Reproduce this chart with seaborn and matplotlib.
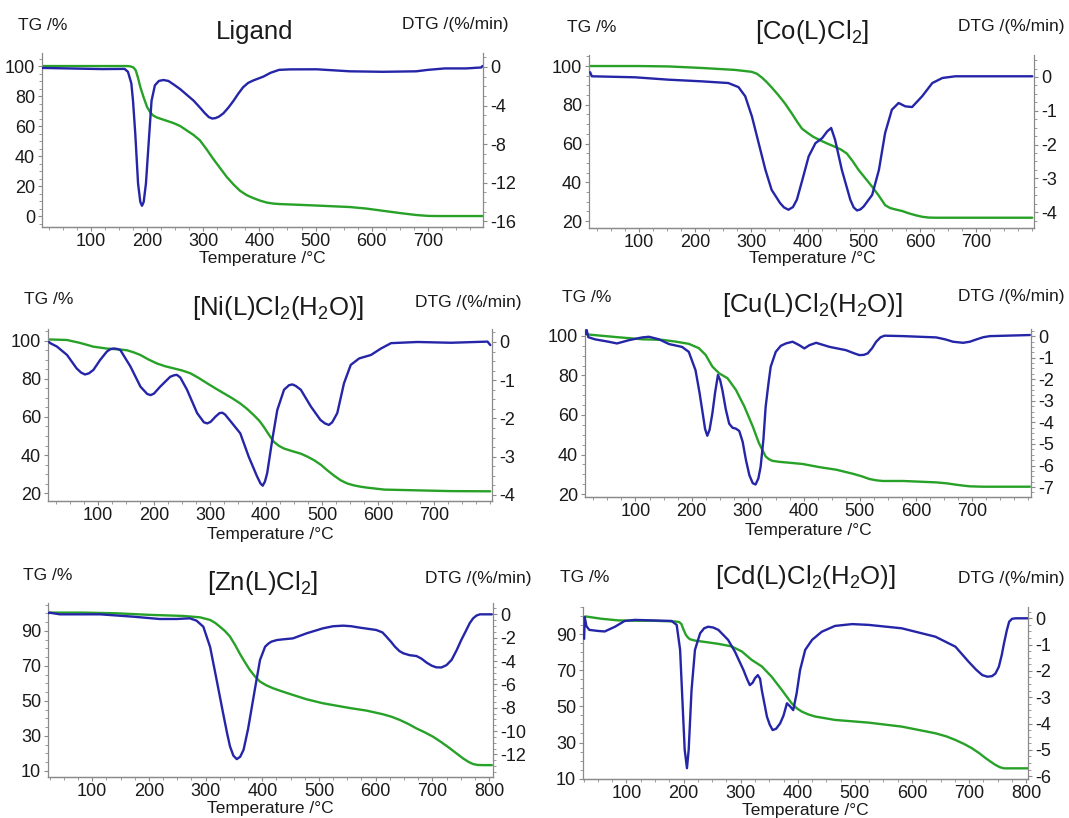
import matplotlib
matplotlib.use("Agg")
import matplotlib.pyplot as plt
import seaborn as sns
from matplotlib.ticker import AutoMinorLocator, FixedLocator

# ---------------- data ----------------
TITLES = ["Ligand", r"[Co(L)Cl$_\mathregular{2}$]",
          r"[Ni(L)Cl$_\mathregular{2}$(H$_\mathregular{2}$O)]",
          r"[Cu(L)Cl$_\mathregular{2}$(H$_\mathregular{2}$O)]",
          r"[Zn(L)Cl$_\mathregular{2}$]",
          r"[Cd(L)Cl$_\mathregular{2}$(H$_\mathregular{2}$O)]"]

# Ligand
LIG_T_TG = [14, 60, 120, 165, 170, 176, 180, 184, 188, 194, 200, 206, 211, 217, 223, 235, 247, 259, 271, 283, 294, 306, 318, 330, 342, 354, 365, 377, 389, 401, 413, 425, 436, 470, 502, 561, 590, 620, 650, 679, 700, 720, 797]
LIG_TG = [100, 100, 100, 100, 99.8, 99, 97, 92, 86, 79, 72.7, 69, 67, 65.8, 65, 63.5, 62, 60, 57, 54, 50.5, 44.5, 38, 32, 26, 21, 17, 14, 12, 10.3, 9, 8.3, 8, 7.5, 7, 6, 5, 3.5, 2, 0.7, 0.1, 0, 0]
LIG_T_DTG = [14, 60, 120, 160, 166, 172, 175, 179, 184, 188, 191, 194, 198, 204, 208, 214, 221, 229, 238, 247, 259, 271, 283, 294, 303, 310, 316, 322, 328, 336, 345, 354, 362, 371, 380, 389, 398, 407, 420, 435, 454, 502, 561, 620, 679, 700, 730, 768, 795, 797]
LIG_DTG = [-0.1, -0.15, -0.22, -0.2, -0.5, -1.7, -3.5, -6.9, -12.1, -14.0, -14.4, -14.0, -12.1, -6.9, -3.5, -1.9, -1.45, -1.35, -1.45, -1.8, -2.3, -2.9, -3.5, -4.2, -4.8, -5.2, -5.35, -5.3, -5.15, -4.8, -4.2, -3.5, -2.8, -2.1, -1.65, -1.4, -1.2, -1.0, -0.6, -0.3, -0.25, -0.24, -0.45, -0.5, -0.45, -0.3, -0.15, -0.15, -0.05, 0.1]

# [Co(L)Cl2]
CO_T_TG = [12, 100, 152, 212, 271, 301, 310, 319, 328, 336, 348, 360, 372, 382, 390, 400, 410, 420, 435, 449, 460, 470, 480, 491, 503, 515, 527, 538, 547, 556, 568, 580, 592, 604, 615, 628, 700, 800]
CO_TG = [100, 100, 99.8, 99, 98, 97, 96, 94, 91.5, 89, 85, 80.6, 75.5, 71, 67.7, 65.5, 63.5, 62, 60, 58.3, 56.8, 54.8, 51, 46.3, 42, 37.7, 33, 28.2, 26.7, 26, 25.2, 24, 23, 22.2, 21.8, 21.7, 21.7, 21.7]
CO_T_DTG = [13, 16, 93, 152, 212, 259, 277, 289, 301, 313, 325, 336, 351, 358, 366, 374, 381, 390, 402, 414, 426, 435, 442, 449, 461, 476, 482, 488, 494, 500, 515, 527, 538, 550, 562, 574, 586, 604, 622, 640, 663, 746, 800]
CO_DTG = [0.14, 0.02, -0.01, -0.08, -0.13, -0.18, -0.3, -0.57, -1.17, -1.96, -2.75, -3.34, -3.73, -3.86, -3.93, -3.85, -3.63, -3.09, -2.35, -1.96, -1.81, -1.61, -1.51, -1.86, -2.75, -3.63, -3.86, -3.95, -3.92, -3.83, -3.49, -2.75, -1.66, -0.97, -0.77, -0.87, -0.89, -0.57, -0.18, -0.03, 0.02, 0.02, 0.02]

# [Ni(L)Cl2(H2O)]
NI_T_TG = [14, 45, 68, 92, 116, 140, 152, 164, 176, 190, 205, 220, 235, 250, 265, 280, 295, 310, 325, 340, 354, 366, 378, 388, 396, 405, 414, 423, 432, 447, 462, 474, 486, 498, 509, 521, 533, 545, 557, 569, 581, 611, 670, 730, 800]
NI_TG = [100.8, 100.5, 99, 97, 96, 95.5, 95.1, 94, 92.6, 90.3, 88.2, 86.7, 85.6, 84.5, 83, 80.5, 77.7, 75, 72.4, 69.8, 67.1, 64.3, 61, 58, 54.8, 50.7, 46.9, 44.8, 43.4, 42, 40.7, 39.1, 37.2, 34.8, 32, 29.2, 26.7, 25, 24, 23.3, 22.8, 21.8, 21.4, 21, 20.9]
NI_T_DTG = [13, 15, 27, 45, 62, 70, 77, 84, 92, 104, 116, 122, 128, 134, 140, 158, 176, 188, 194, 200, 211, 229, 236, 241, 247, 259, 277, 289, 295, 301, 310, 317, 322, 327, 337, 354, 369, 384, 390, 394, 398, 402, 411, 420, 432, 441, 447, 453, 462, 480, 497, 505, 512, 518, 527, 539, 551, 566, 587, 605, 623, 670, 730, 795, 800]
NI_DTG = [0.0, -0.03, -0.12, -0.34, -0.69, -0.8, -0.85, -0.82, -0.73, -0.47, -0.25, -0.19, -0.17, -0.18, -0.21, -0.64, -1.17, -1.36, -1.39, -1.35, -1.17, -0.91, -0.87, -0.86, -0.93, -1.25, -1.86, -2.1, -2.13, -2.09, -1.95, -1.86, -1.85, -1.9, -2.08, -2.39, -3.0, -3.52, -3.7, -3.76, -3.65, -3.43, -2.56, -1.78, -1.25, -1.13, -1.11, -1.15, -1.25, -1.69, -2.04, -2.13, -2.17, -2.1, -1.86, -1.08, -0.6, -0.43, -0.34, -0.17, -0.03, 0.0, -0.02, 0.01, -0.08]

# [Cu(L)Cl2(H2O)]
CU_T_TG = [12, 70, 112, 148, 172, 195, 213, 225, 237, 249, 264, 279, 294, 309, 320, 332, 338, 344, 356, 368, 398, 428, 458, 487, 503, 517, 530, 541, 577, 636, 655, 672, 686, 696, 720, 756, 803]
CU_TG = [100.8, 99.3, 98.3, 98, 97.1, 96, 93.8, 90.4, 84.5, 81.1, 78.6, 72.7, 64.3, 54.2, 45.8, 39, 37.6, 36.8, 36.3, 36, 35.2, 33.6, 32.3, 30.3, 29, 27.6, 26.9, 26.6, 26.6, 25.9, 25.4, 24.7, 24.2, 23.9, 23.7, 23.7, 23.7]
CU_T_DTG = [11, 13, 16, 28, 52, 67, 88, 112, 124, 142, 160, 183, 195, 207, 214, 219, 224, 228, 232, 237, 242, 247, 251, 255, 261, 267, 273, 279, 285, 291, 297, 303, 309, 314, 319, 323, 328, 332, 337, 341, 350, 359, 368, 380, 392, 401, 410, 422, 446, 475, 490, 499, 507, 514, 522, 529, 537, 544, 577, 636, 652, 666, 684, 696, 708, 720, 732, 803]
CU_DTG = [0.1, 0.28, -0.05, -0.15, -0.26, -0.34, -0.19, -0.06, -0.03, -0.15, -0.37, -0.5, -0.73, -1.58, -2.6, -3.44, -4.3, -4.62, -4.35, -3.59, -2.6, -1.8, -2.05, -2.52, -3.4, -4.06, -4.25, -4.29, -4.4, -4.9, -5.76, -6.45, -6.82, -6.88, -6.6, -6.07, -4.8, -3.28, -2.2, -1.42, -0.73, -0.45, -0.34, -0.26, -0.42, -0.57, -0.42, -0.31, -0.5, -0.65, -0.8, -0.88, -0.87, -0.8, -0.55, -0.26, -0.05, 0.02, 0.0, -0.06, -0.15, -0.26, -0.31, -0.26, -0.15, -0.05, 0.0, 0.05]

# [Zn(L)Cl2]
ZN_T_TG = [24, 84, 143, 202, 260, 290, 308, 317, 325, 334, 343, 352, 360, 369, 378, 387, 396, 407, 419, 434, 449, 478, 507, 554, 584, 613, 628, 643, 658, 672, 687, 701, 716, 731, 743, 754, 764, 772, 780, 790, 805]
ZN_TG = [100.5, 100.5, 100.1, 99.2, 98.6, 97.8, 96.3, 94.6, 92.5, 90, 86.8, 82, 77.2, 72.3, 67.7, 64, 61, 58.9, 57.2, 55.5, 53.9, 50.9, 48.6, 45.9, 44.4, 42.3, 40.9, 39, 36.7, 34.2, 31.9, 29.5, 26.3, 22.8, 19.8, 17.1, 15, 13.8, 13.3, 13.2, 13.2]
ZN_T_DTG = [23, 25, 43, 114, 172, 219, 249, 272, 284, 296, 308, 319, 331, 338, 343, 349, 355, 361, 367, 375, 387, 396, 405, 411, 416, 426, 437, 454, 478, 507, 525, 543, 557, 572, 601, 612, 619, 627, 634, 642, 649, 660, 672, 681, 690, 699, 707, 716, 725, 734, 743, 751, 760, 766, 772, 778, 784, 792, 805]
ZN_DTG = [0.1, 0.14, 0.0, 0.0, -0.2, -0.4, -0.4, -0.34, -0.54, -1.06, -2.8, -5.5, -8.5, -10.2, -11.3, -12.1, -12.4, -12.2, -11.6, -9.8, -6.4, -3.91, -2.77, -2.5, -2.34, -2.2, -2.14, -2.06, -1.63, -1.2, -1.02, -0.97, -1.02, -1.14, -1.34, -1.55, -1.91, -2.35, -2.77, -3.15, -3.34, -3.5, -3.57, -3.8, -4.14, -4.4, -4.54, -4.55, -4.35, -3.9, -3.06, -2.2, -1.34, -0.75, -0.34, -0.1, 0.0, 0.0, 0.0]

# [Cd(L)Cl2(H2O)]
CD_T_TG = [28, 56, 85, 115, 144, 185, 192, 196, 200, 204, 208, 211, 220, 232, 261, 284, 302, 319, 337, 354, 372, 389, 398, 407, 418, 430, 465, 524, 582, 641, 660, 676, 691, 705, 718, 729, 738, 746, 754, 761, 781, 804]
CD_TG = [99.8, 98.5, 97.6, 97.4, 97.4, 97, 96.7, 95.7, 92.5, 89.6, 88, 87.2, 86.4, 85.9, 84.6, 83.2, 80.4, 75.8, 72.1, 66.5, 59.1, 51.8, 49, 47.1, 45.6, 44.4, 42.5, 41, 38.8, 35.1, 33.4, 31.4, 29.2, 26.8, 24, 21.3, 19.3, 17.6, 16.3, 15.7, 15.7, 15.7]
CD_T_DTG = [26, 27, 30, 35, 50, 62, 80, 97, 115, 161, 179, 188, 194, 198, 202, 206, 209, 214, 220, 229, 236, 243, 252, 261, 278, 290, 305, 311, 316, 321, 325, 330, 334, 337, 346, 351, 356, 362, 369, 375, 381, 387, 392, 398, 404, 413, 425, 442, 465, 495, 524, 582, 641, 676, 699, 712, 723, 732, 740, 746, 752, 757, 761, 766, 770, 775, 781, 804]
CD_DTG = [-0.78, 0.05, -0.3, -0.44, -0.48, -0.5, -0.32, -0.1, -0.06, -0.09, -0.1, -0.25, -1.2, -3.1, -5.0, -5.7, -5.0, -2.73, -1.2, -0.57, -0.38, -0.32, -0.35, -0.44, -0.82, -1.27, -1.97, -2.3, -2.54, -2.45, -2.28, -2.16, -2.3, -2.73, -3.74, -4.05, -4.25, -4.2, -4.0, -3.7, -3.23, -3.36, -3.49, -2.85, -1.97, -1.2, -0.82, -0.51, -0.29, -0.22, -0.25, -0.38, -0.7, -1.08, -1.65, -1.95, -2.16, -2.22, -2.2, -2.1, -1.84, -1.4, -0.95, -0.45, -0.13, -0.02, 0.0, 0.0]

X_TICKS_TOP = [100, 200, 300, 400, 500, 600, 700]
X_TICKS_BOT = [100, 200, 300, 400, 500, 600, 700, 800]

# ---------------- style ----------------
sns.set_theme(style="white")
plt.rcParams['font.family'] = ['Liberation Sans', 'DejaVu Sans']
plt.rcParams['axes.unicode_minus'] = False
plt.rcParams['mathtext.fontset'] = 'custom'
plt.rcParams['mathtext.rm'] = 'Liberation Sans'
plt.rcParams['mathtext.it'] = 'Liberation Sans'

GREEN = "#27a127"
BLUE = "#2525a8"
SPINE = "#8a8a8a"
TXT = "#1a1a1a"
W, H = 1069, 818

fig = plt.figure(figsize=(W / 100, H / 100), dpi=100)


def rect(l, r, t, b):
    return [l / W, 1 - b / H, (r - l) / W, (b - t) / H]


panels = [
    dict(rect=rect(42, 483, 53, 227), xlim=(13, 798), tgl=(-7.3, 108.7), dtgl=(-16.6, 1.45),
         tgt=[0, 20, 40, 60, 80, 100], dtgt=[0, -4, -8, -12, -16], xt=X_TICKS_TOP,
         d=(LIG_T_TG, LIG_TG, LIG_T_DTG, LIG_DTG),
         title=(255, 32), tg=(18, 25), dl=(402, 25), xl=(262, 259)),
    dict(rect=rect(589, 1034, 55, 228), xlim=(11, 803), tgl=(16.4, 105.7), dtgl=(-4.47, 0.65),
         tgt=[20, 40, 60, 80, 100], dtgt=[0, -1, -2, -3, -4], xt=X_TICKS_TOP,
         d=(CO_T_TG, CO_TG, CO_T_DTG, CO_DTG),
         title=(812, 32), tg=(567, 27), dl=(958, 27), xl=(812, 259)),
    dict(rect=rect(48, 492, 329, 501), xlim=(11, 803), tgl=(15.8, 106.3), dtgl=(-4.16, 0.34),
         tgt=[20, 40, 60, 80, 100], dtgt=[0, -1, -2, -3, -4], xt=X_TICKS_TOP,
         d=(NI_T_TG, NI_TG, NI_T_DTG, NI_DTG),
         title=(278, 308), tg=(24, 300), dl=(415, 302), xl=(270, 534)),
    dict(rect=rect(585, 1031, 329, 497), xlim=(10, 805), tgl=(18.5, 103.5), dtgl=(-7.46, 0.33),
         tgt=[20, 40, 60, 80, 100], dtgt=[0, -1, -2, -3, -4, -5, -6, -7], xt=X_TICKS_TOP,
         d=(CU_T_TG, CU_TG, CU_T_DTG, CU_DTG),
         title=(812, 305), tg=(562, 297), dl=(958, 297), xl=(808, 530)),
    dict(rect=rect(48, 493, 603, 777), xlim=(22, 807), tgl=(6.4, 106), dtgl=(-13.93, 0.97),
         tgt=[10, 30, 50, 70, 90], dtgt=[0, -2, -4, -6, -8, -10, -12], xt=X_TICKS_BOT,
         d=(ZN_T_TG, ZN_TG, ZN_T_DTG, ZN_DTG),
         title=(263, 583), tg=(23, 575), dl=(425, 578), xl=(270, 808)),
    dict(rect=rect(583, 1028, 607, 779), xlim=(24, 803), tgl=(9.8, 105), dtgl=(-6.11, 0.43),
         tgt=[10, 30, 50, 70, 90], dtgt=[0, -1, -2, -3, -4, -5, -6], xt=X_TICKS_BOT,
         d=(CD_T_TG, CD_TG, CD_T_DTG, CD_DTG),
         title=(805, 577), tg=(560, 578), dl=(958, 578), xl=(805, 810)),
]

for p, title in zip(panels, TITLES):
    ax = fig.add_axes(p['rect'])
    ax2 = ax.twinx()
    t_tg, tg, t_dtg, dtg = p['d']
    sns.lineplot(x=t_tg, y=tg, ax=ax, color=GREEN, lw=1.7, sort=False, estimator=None)
    sns.lineplot(x=t_dtg, y=dtg, ax=ax2, color=BLUE, lw=1.7, sort=False, estimator=None)
    for a in (ax, ax2):
        a.set_xlim(*p['xlim'])
        a.set_xlabel("")
        a.set_ylabel("")
        a.set_facecolor("none")
        for s in a.spines.values():
            s.set_color(SPINE)
            s.set_linewidth(0.9)
        a.spines['top'].set_visible(False)
    ax.spines['right'].set_visible(False)
    ax2.spines['left'].set_visible(False)
    ax.set_ylim(*p['tgl'])
    ax2.set_ylim(*p['dtgl'])
    ax.xaxis.set_major_locator(FixedLocator(p['xt']))
    ax.yaxis.set_major_locator(FixedLocator(p['tgt']))
    ax2.yaxis.set_major_locator(FixedLocator(p['dtgt']))
    ax.xaxis.set_minor_locator(AutoMinorLocator(4))
    ax.yaxis.set_minor_locator(AutoMinorLocator(4))
    ax2.yaxis.set_minor_locator(AutoMinorLocator(4))
    for a in (ax, ax2):
        a.tick_params(which='major', direction='out', length=3, width=0.8, color=SPINE,
                      labelsize=13, labelcolor=TXT, pad=2)
        a.tick_params(which='minor', direction='out', length=2, width=0.6, color=SPINE)
    ax.tick_params(axis='x', which='major', pad=1)
    ax.tick_params(axis='y', left=True, which='both')
    ax.tick_params(axis='x', bottom=True, which='both')
    ax2.tick_params(axis='y', right=True, which='both')

    fig.text(p['title'][0] / W, 1 - p['title'][1] / H, title, ha='center', va='center',
             fontsize=18.5, color=TXT)
    fig.text(p['tg'][0] / W, 1 - p['tg'][1] / H, "TG /%", ha='left', va='center',
             fontsize=12.5, color=TXT)
    fig.text(p['dl'][0] / W, 1 - p['dl'][1] / H, "DTG /(%/min)", ha='left', va='center',
             fontsize=12.5, color=TXT)
    fig.text(p['xl'][0] / W, 1 - p['xl'][1] / H, "Temperature /\u00b0C", ha='center', va='center',
             fontsize=12.5, color=TXT)

fig.savefig("out.png", dpi=100)
